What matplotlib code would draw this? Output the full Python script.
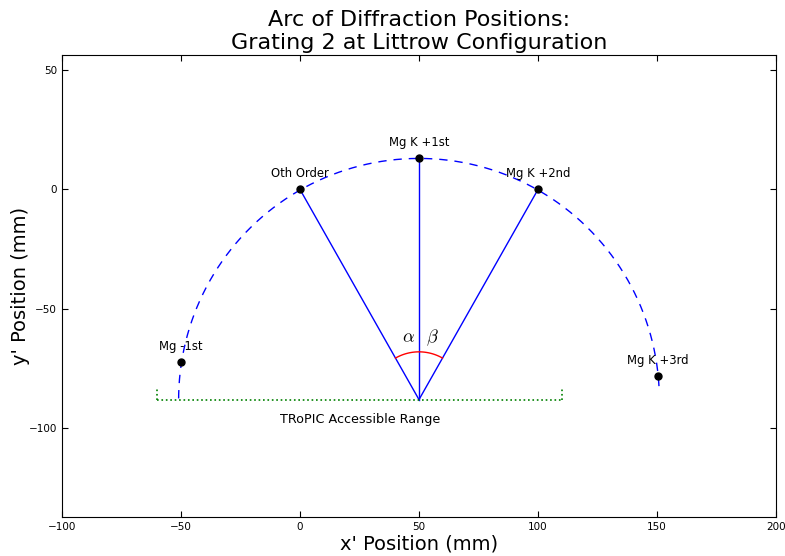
import numpy as np
import matplotlib
matplotlib.use("Agg")
import matplotlib.pyplot as plt

plt.rcParams["mathtext.fontset"] = "cm"

# Grating centre and diffraction-order positions (mm)
center = (50.0, -88.0)
order_labels = ["Mg -1st", "Oth Order", "Mg K +1st", "Mg K +2nd", "Mg K +3rd"]
order_x = [-50.0, 0.0, 50.0, 100.0, 150.4]
order_y = [-72.4, 0.0, 13.0, 0.0, -78.2]

# Arc of the diffraction circle (degrees)
arc_radius = 101.0
arc_start_deg = 3.2
arc_end_deg = 180.0

# Angle marker between incident and diffracted rays
angle_radius = 20.0

# TRoPIC accessible range along x (mm)
range_x = [-60.0, 110.0]
range_cap = 5.0

x_ticks = [-100, -50, 0, 50, 100, 150, 200]
y_ticks = [-100, -50, 0, 50]

fig = plt.figure(figsize=(7.85, 5.56), dpi=100)
ax = fig.add_axes([0.079, 0.070, 0.9095, 0.831])

# dashed arc
th = np.radians(np.linspace(arc_start_deg, arc_end_deg, 400))
ax.plot(center[0] + arc_radius * np.cos(th), center[1] + arc_radius * np.sin(th),
        color="blue", linestyle="--", linewidth=1, dashes=(6, 5))

# rays from grating centre to 0th, +1st, +2nd orders
for i in (1, 2, 3):
    ax.plot([center[0], order_x[i]], [center[1], order_y[i]], color="blue", linewidth=1)

# angle arc between 0th order ray and +2nd order ray
a0 = np.arctan2(order_y[3] - center[1], order_x[3] - center[0])
a1 = np.arctan2(order_y[1] - center[1], order_x[1] - center[0])
ta = np.linspace(a0, a1, 100)
ax.plot(center[0] + angle_radius * np.cos(ta), center[1] + angle_radius * np.sin(ta),
        color="red", linewidth=1)
ax.text(45.5, -62, r"$\alpha$", fontsize=13, ha="center", va="center")
ax.text(55.5, -62, r"$\beta$", fontsize=13, ha="center", va="center")

# accessible range
ax.plot(range_x, [center[1], center[1]], color="green", linestyle=":", linewidth=1.2)
for xr in range_x:
    ax.plot([xr, xr], [center[1], center[1] + range_cap], color="green",
            linestyle=":", linewidth=1.2)
ax.text(25.2, center[1] - 8.5, "TRoPIC Accessible Range",
        fontsize=9.2, ha="center", va="center")

# order points and labels
ax.plot(order_x, order_y, "o", color="black", markersize=5)
for lx, ly, lab in zip(order_x, order_y, order_labels):
    ax.text(lx, ly + 6.5, lab, fontsize=8.4, ha="center", va="center")

ax.set_xlim(-100, 200)
ax.set_ylim(-137.2, 56.3)
ax.set_xticks(x_ticks)
ax.set_yticks(y_ticks)
ax.tick_params(direction="in", top=True, right=True, length=4, labelsize=7.5)
ax.set_xlabel("x' Position (mm)", fontsize=14, labelpad=2)
ax.set_ylabel("y' Position (mm)", fontsize=14, labelpad=-1)
ax.set_title("Arc of Diffraction Positions:\nGrating 2 at Littrow Configuration",
             fontsize=16, pad=4)

fig.savefig("out.png", dpi=100)
